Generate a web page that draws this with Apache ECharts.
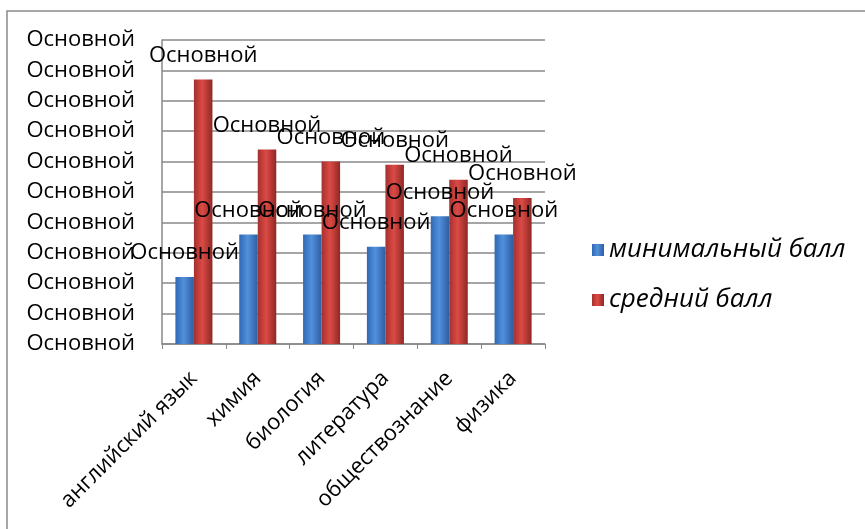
<!DOCTYPE html>
<html><head><meta charset="utf-8">
<script src="https://cdn.jsdelivr.net/npm/echarts@6/dist/echarts.min.js"></script>
<style>html,body{margin:0;padding:0;background:#fff}#c{width:865px;height:529px}</style>
</head><body><div id="c"></div>
<script>
var categories = ['английский язык','химия','биология','литература','обществознание','физика'];
var seriesNames = ['минимальный балл','средний балл'];
var minScores = [22, 36, 36, 32, 42, 36];
var avgScores = [87, 64, 60, 59, 54, 48];
var tickLabel = 'Основной';
var dataLabel = 'Основной';

var FONT = '"Open Sans", sans-serif';
var chart = echarts.init(document.getElementById('c'));
function grad(c0, c1, c2){
  return new echarts.graphic.LinearGradient(0,0,1,0,[{offset:0,color:c0},{offset:0.45,color:c1},{offset:1,color:c2}]);
}
var blue = grad('#2f68b3','#5290db','#2c5ea3');
var red = grad('#a5302d','#dc4a45','#8f2825');
var lbl = {show:true, position:'top', distance:13, formatter:function(){return dataLabel;}, color:'#000', fontSize:22, fontFamily:FONT};
chart.setOption({
  animation:false,
  graphic:[{type:'rect', shape:{x:7,y:11,width:880,height:530}, style:{fill:'none', stroke:'#8a8a8a', lineWidth:1.5}, z:-1}],
  grid:{left:162, right:320, top:40, bottom:185, containLabel:false},
  legend:{orient:'vertical', left:587, top:232, itemGap:24, itemWidth:12, itemHeight:12, icon:'rect',
    textStyle:{fontSize:26, fontStyle:'italic', color:'#000', fontFamily:FONT}, data:seriesNames},
  xAxis:{type:'category', data:categories,
    axisLine:{lineStyle:{color:'#888', width:1.5}},
    axisTick:{show:true, length:5, alignWithLabel:false, lineStyle:{color:'#888'}},
    axisLabel:{rotate:45, interval:0, margin:31, fontSize:22, color:'#000', fontFamily:FONT}},
  yAxis:{type:'value', min:0, max:100, interval:10,
    axisLine:{show:true, lineStyle:{color:'#888', width:1.5}},
    axisTick:{show:false},
    splitLine:{lineStyle:{color:'#888', width:1.5}},
    axisLabel:{formatter:function(){return tickLabel;}, margin:27, fontSize:22, color:'#000', fontFamily:FONT}},
  series:[
    {name:seriesNames[0], type:'bar', data:minScores, barGap:'0%', barCategoryGap:'42%', itemStyle:{color:blue}, label:lbl},
    {name:seriesNames[1], type:'bar', data:avgScores, itemStyle:{color:red}, label:lbl}
  ]
});
</script></body></html>
